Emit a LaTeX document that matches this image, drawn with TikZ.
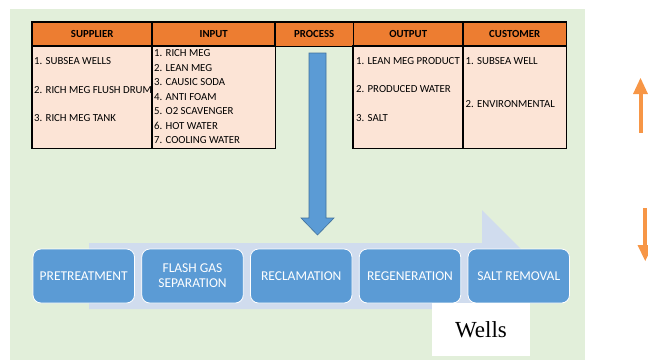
\documentclass[tikz,border=0pt]{standalone}
\usepackage{fontspec}
\usetikzlibrary{calc}
\setmainfont{Carlito}
\newfontfamily\timesf{Liberation Serif}
\definecolor{bggreen}{HTML}{E2EFDA}
\definecolor{hdr}{HTML}{ED7D31}
\definecolor{cellbg}{HTML}{FCE4D6}
\definecolor{stepblue}{HTML}{5B9BD5}
\definecolor{chev}{HTML}{D0DCEE}
\definecolor{arrowor}{HTML}{F79646}
\definecolor{darkblue}{HTML}{41719C}
\tikzset{
  hdrcell/.style={fill=hdr, draw=none, anchor=north west, minimum height=24pt, inner sep=0pt, font=\bfseries\fontsize{10.8}{12}\selectfont},
  bodycell/.style={fill=cellbg, draw=none, anchor=north west, minimum height=102pt, inner sep=0pt},
  celltext/.style={anchor=west, inner sep=0pt, font=\fontsize{10.8}{12}\selectfont},
  tableline/.style={line width=1.8pt, black},
  stepbox/.style={fill=stepblue, draw=white, line width=0.8pt, rounded corners=8pt, minimum width=101.5pt, minimum height=54pt, inner sep=0pt, text=white, align=center, font=\fontsize{13.5}{15}\selectfont},
  orarrow/.style={fill=arrowor, draw=none},
}
\begin{document}
\begin{tikzpicture}[x=1pt,y=-1pt]
\useasboundingbox (0,0) rectangle (648,360);
\fill[bggreen] (10,9) rectangle (585,360);
% chevron behind the steps
\fill[chev] (89,243) -- (482,243) -- (482,210) -- (548,276) -- (482,342) -- (482,309) -- (89,309) -- cycle;
% steps
\node[stepbox] (p1) at (83.75,276) {PRETREATMENT};
\node[stepbox] (p2) at (192.5,276) {FLASH GAS\\SEPARATION};
\node[stepbox] (p3) at (301.25,276) {RECLAMATION};
\node[stepbox] (p4) at (410,276) {REGENERATION};
\node[stepbox] (p5) at (518.75,276) {SALT REMOVAL};
% big blue arrow
\coordinate (btop) at (317.5,53);
\coordinate (btip) at (317.5,235);
\draw[fill=stepblue, draw=darkblue, line width=0.6pt]
  ($(btop)+(-8.5,0)$) -- ($(btop)+(8.5,0)$) -- ($(btip)+(8.5,-17)$) -- ($(btip)+(16.5,-17)$) -- (btip)
  -- ($(btip)+(-16.5,-17)$) -- ($(btip)+(-8.5,-17)$) -- cycle;
% table headers
\node[hdrcell, minimum width=120pt] (hsup) at (32,22) {SUPPLIER};
\node[hdrcell, minimum width=123pt] (hin) at (152,22) {INPUT};
\node[hdrcell, minimum width=78pt] (hpro) at (275,22) {PROCESS};
\node[hdrcell, minimum width=110pt] (hout) at (353,22) {OUTPUT};
\node[hdrcell, minimum width=103pt] (hcus) at (463,22) {CUSTOMER};
% body cells
\node[bodycell, minimum width=120pt] (bsup) at (32,46) {};
\node[bodycell, minimum width=123pt] (bin) at (152,46) {};
\node[bodycell, minimum width=110pt] (bout) at (353,46) {};
\node[bodycell, minimum width=103pt] (bcus) at (463,46) {};
% cell texts
\node[celltext] (s1) at (34,61) {1. SUBSEA WELLS};
\node[celltext] (s2) at (34,90) {2. RICH MEG FLUSH DRUM};
\node[celltext] (s3) at (34,118) {3. RICH MEG TANK};
\node[celltext] (i1) at (154,53.5) {1. RICH MEG};
\node[celltext] (i2) at (154,68) {2. LEAN MEG};
\node[celltext] (i3) at (154,82.5) {3. CAUSIC SODA};
\node[celltext] (i4) at (154,97) {4. ANTI FOAM};
\node[celltext] (i5) at (154,111.5) {5. O2 SCAVENGER};
\node[celltext] (i6) at (154,126) {6. HOT WATER};
\node[celltext] (i7) at (154,140.5) {7. COOLING WATER};
\node[celltext] (o1) at (356,61) {1. LEAN MEG PRODUCT};
\node[celltext] (o2) at (356,89.5) {2. PRODUCED WATER};
\node[celltext] (o3) at (356,118) {3. SALT};
\node[celltext] (c1) at (465.5,61) {1. SUBSEA WELL};
\node[celltext] (c2) at (465.5,104) {2. ENVIRONMENTAL};
% table borders
\draw[tableline] (hsup.north west) rectangle (hpro.south east);
\draw[tableline] (hpro.north east) rectangle (hcus.south east);
\draw[tableline] (hin.north west) -- (hin.south west);
\draw[tableline] (hpro.north west) -- (hpro.south west);
\draw[tableline] (hcus.north west) -- (hcus.south west);
\draw[tableline] (bsup.north west) rectangle (bin.south east);
\draw[tableline] (bin.north west) -- (bin.south west);
\draw[tableline] (bout.north west) rectangle (bcus.south east);
\draw[tableline] (bcus.north west) -- (bcus.south west);
% Wells label
\node[fill=white, minimum width=98pt, minimum height=53pt, inner sep=0pt, font=\timesf\fontsize{23}{26}\selectfont] (wells) at (481,329.5) {Wells};
% orange arrows at right edge
\begin{scope}
\clip (0,0) rectangle (648,360);
\coordinate (uatip) at (640.5,78);
\coordinate (datip) at (645.25,261);
\fill[orarrow] ($(uatip)+(-2,16)$) rectangle ($(uatip)+(2,55)$);
\fill[orarrow] (uatip) -- ($(uatip)+(7.5,16)$) -- ($(uatip)+(-7.5,16)$) -- cycle;
\fill[orarrow] ($(datip)+(-2,-53)$) rectangle ($(datip)+(2,-16)$);
\fill[orarrow] (datip) -- ($(datip)+(7.75,-16)$) -- ($(datip)+(-7.75,-16)$) -- cycle;
\end{scope}
\end{tikzpicture}
\end{document}
